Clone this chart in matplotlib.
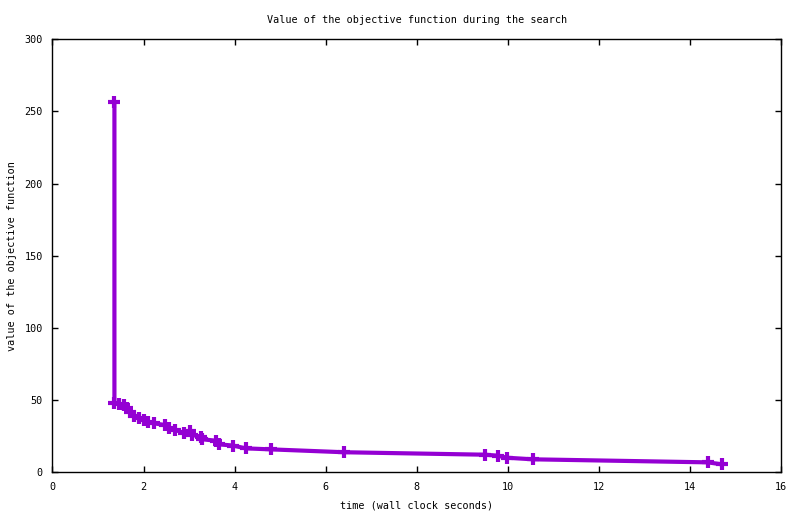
import matplotlib
matplotlib.use("Agg")
import matplotlib.pyplot as plt

# best objective value found so far vs wall clock time
time_s = [1.36, 1.36, 1.46, 1.57, 1.63, 1.71, 1.78, 1.89, 2.00, 2.10, 2.22,
          2.46, 2.55, 2.70, 2.88, 3.03, 3.07, 3.27, 3.29, 3.58, 3.65, 3.97,
          4.24, 4.79, 6.41, 9.50, 9.78, 9.98, 10.55, 14.39, 14.70]
objective = [256.4, 48.2, 47.3, 46.6, 44.4, 42.0, 39.0, 37.4, 36.2, 34.6, 34.0,
             32.8, 30.5, 29.3, 27.4, 28.8, 25.8, 24.7, 22.9, 21.9, 19.4, 18.5,
             16.6, 15.9, 13.9, 12.2, 11.5, 10.1, 9.0, 6.9, 5.5]

xticks = [0, 2, 4, 6, 8, 10, 12, 14, 16]
yticks = [0, 50, 100, 150, 200, 250, 300]

font = "DejaVu Sans Mono"
fs = 7.3

fig = plt.figure(figsize=(8.0, 5.14), dpi=100)
ax = fig.add_axes([0.0656, 0.0811, 0.9109, 0.8424])

ax.plot(time_s, objective, color="#9400D3", lw=3.0, marker="+", ms=9, mew=3.0,
        solid_joinstyle="miter")

ax.set_xlim(0, 16)
ax.set_ylim(0, 300)
ax.set_xticks(xticks)
ax.set_yticks(yticks)
ax.tick_params(direction="in", length=4, width=1, top=True, right=True,
               labelsize=fs, pad=7)
for lab in ax.get_xticklabels() + ax.get_yticklabels():
    lab.set_family(font)
for sp in ax.spines.values():
    sp.set_linewidth(1)

ax.set_title("Value of the objective function during the search",
             family=font, fontsize=fs, pad=12)
ax.set_xlabel("time (wall clock seconds)", family=font, fontsize=fs, labelpad=6)
ax.set_ylabel("value of the objective function", family=font, fontsize=fs,
              labelpad=5)

fig.savefig("out.png", dpi=100)
